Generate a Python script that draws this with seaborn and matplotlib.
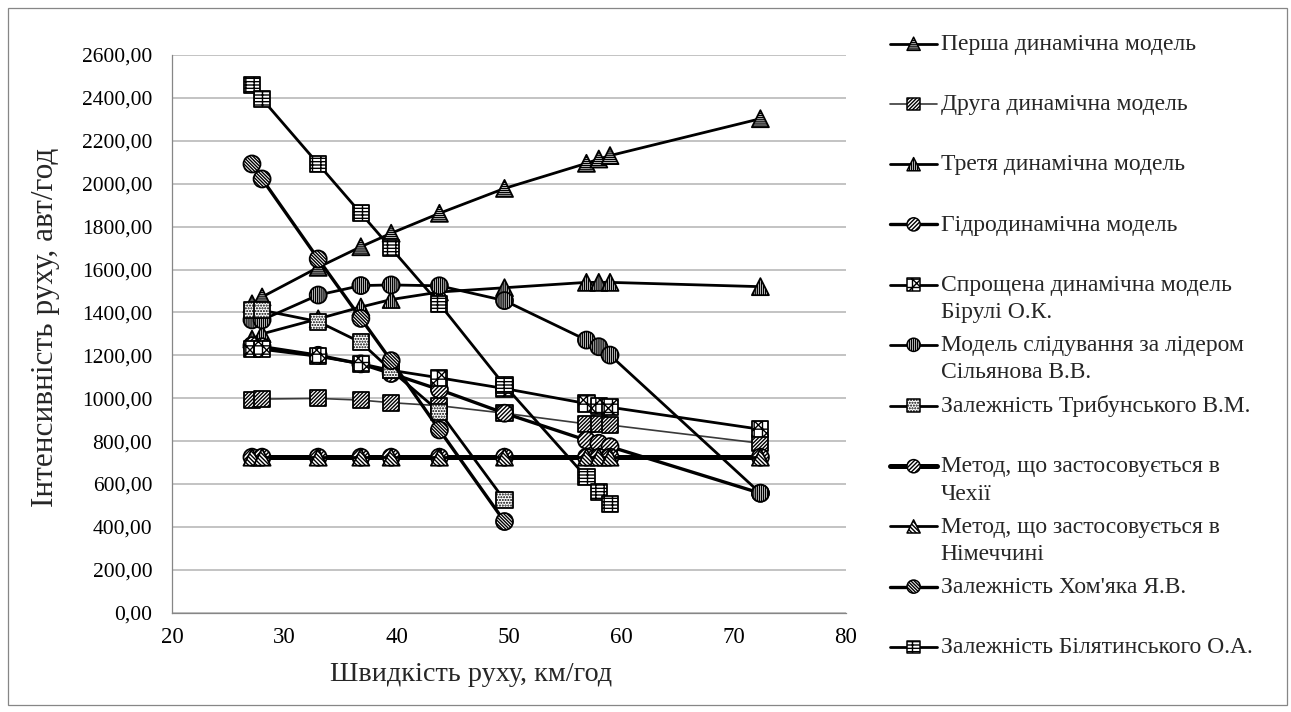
import matplotlib
matplotlib.use("Agg")
import matplotlib.pyplot as plt
import pandas as pd
import seaborn as sns
from matplotlib.lines import Line2D
from matplotlib.collections import PathCollection
from matplotlib.markers import MarkerStyle
from matplotlib.legend_handler import HandlerBase
from matplotlib.transforms import IdentityTransform
from matplotlib.ticker import FuncFormatter, MultipleLocator
from matplotlib.patches import Rectangle

# Speed of traffic, km/h (shared x values)
speed = [27.1, 28.0, 33.0, 36.8, 39.5, 43.8, 49.6, 56.9, 58.0, 59.0, 72.4]

# Traffic intensity, veh/h, for each model
flow_first_dyn = [1440, 1472, 1610, 1706, 1769, 1862, 1978, 2095, 2115, 2131, 2303]
flow_second_dyn = [991, 996, 999, 991, 979, 965, 930, 880, 880, 875, 790]
flow_third_dyn = [1275, 1300, 1370, 1425, 1460, 1495, 1515, 1540, 1540, 1540, 1520]
flow_hydro = [1245, 1240, 1200, 1160, 1115, 1040, 930, 804, 790, 774, 557]
flow_birulia = [1231, 1228, 1195, 1161, 1130, 1095, 1045, 975, 965, 958, 855]
flow_silianov = [1365, 1365, 1481, 1525, 1528, 1524, 1455, 1271, 1240, 1201, 557]
flow_trybunsky = [1410, 1410, 1357, 1260, 1130, 937, 525]
flow_czech = [725, 725, 725, 725, 725, 725, 725, 725, 725, 725, 725]
flow_germany = [725, 725, 725, 725, 725, 725, 725, 725, 725, 725, 725]
flow_khomiak = [2092, 2022, 1649, 1372, 1175, 852, 425]
flow_biliatynsky = [2460, 2395, 2092, 1862, 1699, 1440, 1060, 631, 564, 507]

series_labels = [
    "Перша динамічна модель",
    "Друга динамічна модель",
    "Третя динамічна модель",
    "Гідродинамічна модель",
    "Спрощена динамічна модель\nБірулі О.К.",
    "Модель слідування за лідером\nСільянова В.В.",
    "Залежність Трибунського В.М.",
    "Метод, що застосовується в\nЧехії",
    "Метод, що застосовується в\nНімеччині",
    "Залежність Хом'яка Я.В.",
    "Залежність Білятинського О.А.",
]
series_values = [
    flow_first_dyn, flow_second_dyn, flow_third_dyn, flow_hydro, flow_birulia,
    flow_silianov, flow_trybunsky, flow_czech, flow_germany, flow_khomiak,
    flow_biliatynsky,
]

# Line and marker styling per series
styles = [
    dict(marker="^", hatch="-" * 8, lc="black", lw=2.0, s=150),
    dict(marker="s", hatch="/" * 9, lc="#3a3a3a", lw=1.2, s=135),
    dict(marker="^", hatch="|" * 8, lc="black", lw=2.0, s=150),
    dict(marker="o", hatch="/" * 8, lc="black", lw=2.4, s=150),
    dict(marker="s", hatch="xx++", lc="black", lw=2.0, s=135),
    dict(marker="o", hatch="|" * 8, lc="black", lw=2.0, s=150),
    dict(marker="s", hatch="......", lc="black", lw=2.0, s=135),
    dict(marker="o", hatch="/" * 8, lc="black", lw=3.6, s=150),
    dict(marker="^", hatch="\\" * 8, lc="black", lw=2.0, s=150),
    dict(marker="o", hatch="\\" * 10, lc="black", lw=2.4, s=150),
    dict(marker="s", hatch="---++", lc="black", lw=2.0, s=135),
]

sns.set_style("white")
plt.rcParams["font.family"] = ["Liberation Serif", "DejaVu Serif"]
plt.rcParams["hatch.linewidth"] = 1.0

W, H = 1291, 712
fig = plt.figure(figsize=(W / 100, H / 100), dpi=100)
ax = fig.add_axes([172.3 / W, 1 - 612.7 / H, (845.7 - 172.3) / W, 557.7 / H])

for i, (vals, st) in enumerate(zip(series_values, styles)):
    df = pd.DataFrame({"speed": speed[:len(vals)], "flow": vals})
    sns.lineplot(data=df, x="speed", y="flow", ax=ax, color=st["lc"],
                 linewidth=st["lw"], estimator=None, sort=False,
                 zorder=3 + 2 * i, legend=False)
    sns.scatterplot(data=df, x="speed", y="flow", ax=ax, marker=st["marker"],
                    s=st["s"], color="white", edgecolor="black", linewidth=1.3,
                    hatch=st["hatch"], zorder=4 + 2 * i, legend=False)

ax.set_xlim(20, 80)
ax.set_ylim(0, 2600)
ax.xaxis.set_major_locator(MultipleLocator(10))
ax.yaxis.set_major_locator(MultipleLocator(200))
ax.yaxis.set_major_formatter(FuncFormatter(lambda v, p: f"{v:.2f}".replace(".", ",")))

ax.yaxis.grid(True, color="#BEBEBE", linewidth=1.3)
ax.xaxis.grid(False)
ax.set_axisbelow(True)
for side in ("top", "right"):
    ax.spines[side].set_visible(False)
for side in ("left", "bottom"):
    ax.spines[side].set_color("#868686")
    ax.spines[side].set_linewidth(0.9)
ax.tick_params(axis="both", direction="out", length=4.5, width=0.9,
               color="#868686", labelcolor="black")
ax.tick_params(axis="y", labelsize=15.5, pad=10)
ax.tick_params(axis="x", labelsize=16.5, pad=6)

ax.set_xlabel("Швидкість руху, км/год", fontsize=20.3)
ax.set_ylabel("Інтенсивність руху, авт/год", fontsize=22.5)
ax.xaxis.label.set_va("center")
ax.yaxis.label.set_va("center")
ax.xaxis.set_label_coords(0.4436, -0.11)
ax.yaxis.set_label_coords(-0.1876, 0.511)


class SeriesKey:
    def __init__(self, st):
        self.st = st


KEY_SHIFT = 0.6


class SeriesKeyHandler(HandlerBase):
    def create_artists(self, legend, orig_handle, xdescent, ydescent, width,
                       height, fontsize, trans):
        st = orig_handle.st
        y = (height - ydescent) / 2 + KEY_SHIFT * fontsize
        x0, x1 = -xdescent, -xdescent + width
        line = Line2D([x0, x1], [y, y], color=st["lc"], linewidth=st["lw"])
        line.set_transform(trans)
        ms = MarkerStyle(st["marker"])
        path = ms.get_path().transformed(ms.get_transform())
        mark = PathCollection([path], sizes=[st["s"] * 0.6],
                              offsets=[((x0 + x1) / 2, y)], offset_transform=trans,
                              facecolors="white", edgecolors="black",
                              linewidths=1.1, hatch=st["hatch"])
        mark.set_transform(IdentityTransform())
        return [line, mark]


handles = [SeriesKey(st) for st in styles]
labels = [lab if "\n" in lab else lab + "\n" for lab in series_labels]
leg = fig.legend(handles, labels, handler_map={SeriesKey: SeriesKeyHandler()},
                 loc="upper left", bbox_to_anchor=(890 / W, 1 - 34 / H),
                 frameon=False, fontsize=17.0, handlelength=2.0,
                 handletextpad=0.15, labelspacing=0.5, borderpad=0,
                 borderaxespad=0)
for t in leg.get_texts():
    t.set_linespacing(1.4)

fig.add_artist(Rectangle((8 / W, 7 / H), (1287 - 8) / W, (705 - 8) / H,
                         transform=fig.transFigure, fill=False,
                         edgecolor="#868686", linewidth=0.9))

fig.savefig("out.png", dpi=100)
